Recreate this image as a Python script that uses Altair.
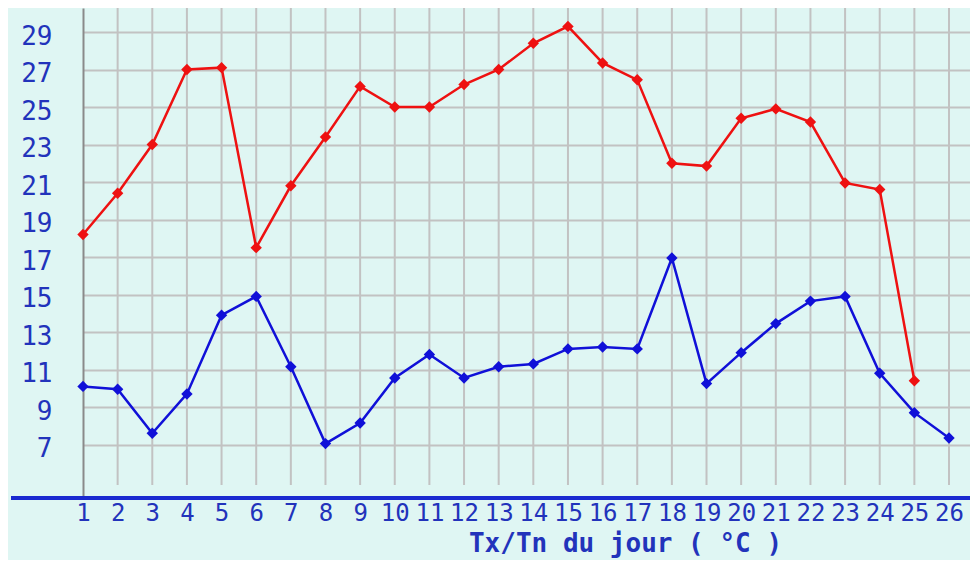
import altair as alt
import pandas as pd

# ---- data ----
days = list(range(1, 27))
tx_days = list(range(1, 26))
tx = [18.2, 20.4, 23.0, 27.0, 27.1, 17.5, 20.8, 23.4, 26.1, 25.0, 25.0, 26.2, 27.0,
      28.4, 29.3, 27.35, 26.45, 22.0, 21.85, 24.4, 24.9, 24.2, 20.95, 20.6, 10.4]
tn_days = list(range(1, 27))
tn = [10.1, 9.95, 7.6, 9.7, 13.9, 14.9, 11.15, 7.05, 8.15, 10.55, 11.8, 10.55, 11.15,
      11.3, 12.1, 12.2, 12.1, 16.95, 10.25, 11.9, 13.45, 14.65, 14.9, 10.8, 8.7, 7.35]
y_ticks = list(range(7, 30, 2))
x_title = "Tx/Tn du jour ( °C   )"
series_names = ["Tx", "Tn"]
series_colors = ["#ee1111", "#1010d8"]

# ---- styling ----
FONT = "DejaVu Sans Mono"
TEXT_BLUE = "#2233bb"
GRID = "#c2c2c2"
BG = "#dff6f3"
Y_LO, Y_HI = 4.15, 30.28
GRID_LO = 4.84
PLOT_W, PLOT_H = 887, 490

lines_df = pd.DataFrame(
    {"day": tx_days + tn_days,
     "temp": tx + tn,
     "series": ["Tx"] * len(tx) + ["Tn"] * len(tn)}
)
grid_df = pd.DataFrame({"day": days[1:], "lo": GRID_LO, "hi": Y_HI})

xs = alt.Scale(domain=[1, 1 + PLOT_W / 34.64], nice=False, zero=False)
ys = alt.Scale(domain=[Y_LO, Y_HI], nice=False, zero=False)

x_axis = alt.Axis(
    values=days, grid=False, ticks=False, domain=False,
    labelFont=FONT, labelFontSize=24, labelColor=TEXT_BLUE,
    labelPadding=15, labelBaseline="middle", labelOverlap=False,
    labelFlush=False, labelBound=False,
    title=x_title, titleFont=FONT, titleFontSize=26, titleFontWeight="bold",
    titleColor=TEXT_BLUE, titleX=542, titleY=53, titleAlign="center",
    titleBaseline="alphabetic",
)
y_axis = alt.Axis(
    values=y_ticks, grid=True, gridColor=GRID, gridWidth=2, ticks=False,
    domain=True, domainColor="#8a8a8a", domainWidth=2,
    labelFont=FONT, labelFontSize=26, labelColor=TEXT_BLUE,
    labelPadding=31, labelOffset=4, labelFlush=False, labelOverlap=False,
    title=None,
)

vgrid = alt.Chart(grid_df).mark_rule(color=GRID, strokeWidth=2).encode(
    x=alt.X("day:Q", scale=xs, axis=x_axis),
    y=alt.Y("lo:Q", scale=ys, axis=y_axis),
    y2="hi:Q",
)

lines = alt.Chart(lines_df).mark_line(
    strokeWidth=2.5,
    point=alt.OverlayMarkDef(shape="diamond", size=130, filled=True, opacity=1),
).encode(
    x=alt.X("day:Q", scale=xs, axis=x_axis),
    y=alt.Y("temp:Q", scale=ys, axis=y_axis),
    color=alt.Color("series:N", scale=alt.Scale(domain=series_names, range=series_colors), legend=None),
    detail="series:N",
)

baseline = alt.Chart(grid_df).mark_rule(color="#1a2ad0", strokeWidth=2.5).encode(
    x=alt.value(-72), x2=alt.value(PLOT_W), y=alt.value(PLOT_H)
)

chart = alt.layer(vgrid, lines, baseline).properties(
    width=PLOT_W, height=PLOT_H,
    padding={"left": 75, "top": 0, "right": 0, "bottom": 62},
    autosize=alt.AutoSizeParams(type="none"),
    background=BG,
).configure_view(stroke=None)

chart.save("out.html", embed_options={"renderer": "svg", "actions": False})
